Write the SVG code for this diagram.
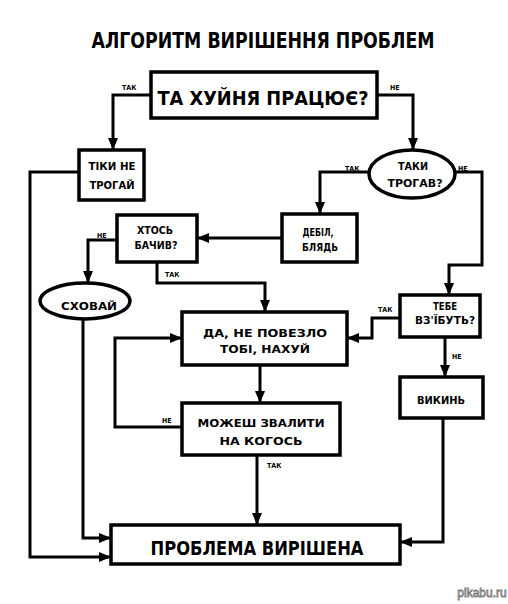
<svg xmlns="http://www.w3.org/2000/svg" width="508" height="604" viewBox="0 0 508 604">
<defs>
<marker id="ah" markerUnits="userSpaceOnUse" markerWidth="12" markerHeight="10" refX="11" refY="5" orient="auto">
<path d="M0,0 L12,5 L0,10 z" fill="#000"/>
</marker>
<style>
.box{fill:#fff;stroke:#000;stroke-width:3.5}
.ln{fill:none;stroke:#000;stroke-width:3;stroke-linejoin:miter;marker-end:url(#ah)}
.t{font-family:"Liberation Sans Narrow","DejaVu Sans Condensed","Liberation Sans",sans-serif;font-weight:bold;fill:#000;text-anchor:middle}
.s{font-size:10px}
.lb{font-family:"Liberation Sans Narrow","DejaVu Sans Condensed","Liberation Sans",sans-serif;font-weight:bold;font-size:7px;fill:#000}
</style>
</defs>
<rect width="508" height="604" fill="#fff"/>
<text class="t" x="263" y="48" font-size="22" textLength="343" lengthAdjust="spacingAndGlyphs">АЛГОРИТМ ВИРІШЕННЯ ПРОБЛЕМ</text>

<g id="connectors">
<path class="ln" d="M151,95 H113 V149"/>
<path class="ln" d="M377,95 H413 V149"/>
<path class="ln" d="M79,172 H30 V557 H110"/>
<path class="ln" d="M369,172 H320 V213"/>
<path class="ln" d="M455,172 H482 V265 H449 V294"/>
<path class="ln" d="M282,238 H198"/>
<path class="ln" d="M117,240 H88 V282"/>
<path class="ln" d="M157,262 V283 H265 V311"/>
<path class="ln" d="M83,320 V538 H110"/>
<path class="ln" d="M400,318 H372 V338 H348"/>
<path class="ln" d="M445,337 V376"/>
<path class="ln" d="M443,418 V542 H401"/>
<path class="ln" d="M260,365 V402"/>
<path class="ln" d="M182,427 H115 V338 H181"/>
<path class="ln" d="M257,455 V524"/>
<text class="lb" x="122" y="90">ТАК</text>
<text class="lb" x="390" y="90">НЕ</text>
<text class="lb" x="345" y="171">ТАК</text>
<text class="lb" x="458" y="171">НЕ</text>
<text class="lb" x="97" y="238">НЕ</text>
<text class="lb" x="165" y="277">ТАК</text>
<text class="lb" x="378" y="312">ТАК</text>
<text class="lb" x="452" y="359">НЕ</text>
<text class="lb" x="162" y="423">НЕ</text>
<text class="lb" x="267" y="468">ТАК</text>
</g>

<g id="n-works">
<rect class="box" x="151" y="72" width="226" height="46"/>
<text class="t" x="263" y="105" font-size="20" textLength="211" lengthAdjust="spacingAndGlyphs">ТА ХУЙНЯ ПРАЦЮЄ?</text>
</g>
<g id="n-donttouch">
<rect class="box" x="79" y="150" width="65" height="50"/>
<text class="t s" x="112" y="170" textLength="47" lengthAdjust="spacingAndGlyphs">ТІКИ НЕ</text>
<text class="t s" x="112" y="189" textLength="45" lengthAdjust="spacingAndGlyphs">ТРОГАЙ</text>
</g>
<g id="n-touched">
<ellipse class="box" cx="412" cy="174" rx="43" ry="24"/>
<text class="t s" x="413" y="170" textLength="30" lengthAdjust="spacingAndGlyphs">ТАКИ</text>
<text class="t s" x="415" y="187" textLength="55" lengthAdjust="spacingAndGlyphs">ТРОГАВ?</text>
</g>
<g id="n-idiot">
<rect class="box" x="282" y="214" width="75" height="48"/>
<text class="t s" x="318" y="236" textLength="31" lengthAdjust="spacingAndGlyphs">ДЕБІЛ,</text>
<text class="t s" x="320" y="251" textLength="36" lengthAdjust="spacingAndGlyphs">БЛЯДЬ</text>
</g>
<g id="n-seen">
<rect class="box" x="117" y="215" width="80" height="47"/>
<text class="t s" x="155" y="234" textLength="36" lengthAdjust="spacingAndGlyphs">ХТОСЬ</text>
<text class="t s" x="156" y="249" textLength="43" lengthAdjust="spacingAndGlyphs">БАЧИВ?</text>
</g>
<g id="n-hide">
<ellipse class="box" cx="85" cy="301" rx="45" ry="18"/>
<text class="t s" x="89" y="310" textLength="56" lengthAdjust="spacingAndGlyphs">СХОВАЙ</text>
</g>
<g id="n-screwed">
<rect class="box" x="400" y="295" width="80" height="42"/>
<text class="t s" x="445" y="310" textLength="24" lengthAdjust="spacingAndGlyphs">ТЕБЕ</text>
<text class="t s" x="445" y="324" textLength="60" lengthAdjust="spacingAndGlyphs">ВЗ'ЇБУТЬ?</text>
</g>
<g id="n-unlucky">
<rect class="box" x="182" y="312" width="165" height="53"/>
<text class="t s" x="265" y="337" textLength="124" lengthAdjust="spacingAndGlyphs">ДА, НЕ ПОВЕЗЛО</text>
<text class="t s" x="265" y="353" textLength="90" lengthAdjust="spacingAndGlyphs">ТОБІ, НАХУЙ</text>
</g>
<g id="n-throw">
<rect class="box" x="400" y="377" width="83" height="41"/>
<text class="t s" x="441" y="404" textLength="48" lengthAdjust="spacingAndGlyphs">ВИКИНЬ</text>
</g>
<g id="n-blame">
<rect class="box" x="182" y="403" width="158" height="52"/>
<text class="t s" x="261" y="427" textLength="127" lengthAdjust="spacingAndGlyphs">МОЖЕШ ЗВАЛИТИ</text>
<text class="t s" x="261" y="445" textLength="83" lengthAdjust="spacingAndGlyphs">НА КОГОСЬ</text>
</g>
<g id="n-solved">
<rect class="box" x="111" y="525" width="289" height="39"/>
<text class="t" x="257" y="555" font-size="20" textLength="213" lengthAdjust="spacingAndGlyphs">ПРОБЛЕМА ВИРІШЕНА</text>
</g>
<text x="482" y="597" text-anchor="middle" font-family="'Liberation Sans',sans-serif" font-size="12" fill="#fff" stroke="#777" stroke-width="0.8">pikabu.ru</text>
</svg>
